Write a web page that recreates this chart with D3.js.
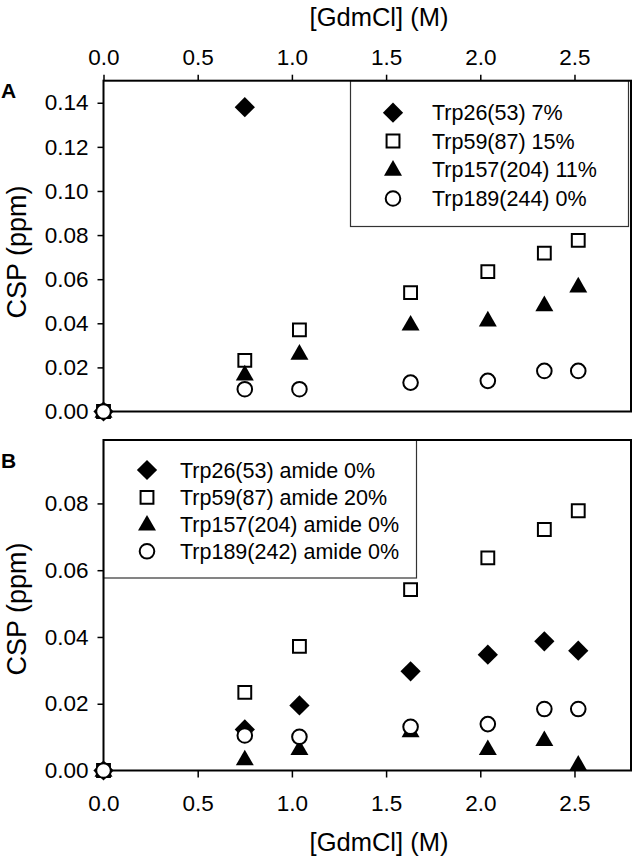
<!DOCTYPE html>
<html>
<head>
<meta charset="utf-8">
<script src="https://cdn.jsdelivr.net/npm/d3@7"></script>
<style>
  html, body { margin: 0; padding: 0; background: #fff; }
  svg { display: block; }
  text { font-family: "Liberation Sans", Arial, sans-serif; fill: #000; }
</style>
</head>
<body>
<svg id="chart" width="633" height="858"></svg>
<script>
// ---------- data ----------
const gdmcl = [0, 0.75, 1.04, 1.63, 2.04, 2.34, 2.52];

// Panel A (side chain)
const aTrp26  = [0, 0.138, null, null, null, null, null];
const aTrp59  = [0, 0.0232, 0.0370, 0.0539, 0.0634, 0.0718, 0.0776];
const aTrp157 = [0, 0.0169, 0.0263, 0.0395, 0.0414, 0.0483, 0.0568];
const aTrp189 = [0, 0.0101, 0.0101, 0.0131, 0.0139, 0.0184, 0.0184];
const aLabels = ["Trp26(53) 7%", "Trp59(87) 15%", "Trp157(204) 11%", "Trp189(244) 0%"];

// Panel B (amide)
const bTrp26  = [0, 0.0123, 0.0195, 0.0297, 0.0347, 0.0387, 0.0359];
const bTrp59  = [0, 0.0234, 0.0372, 0.0542, 0.0637, 0.0722, 0.0778];
const bTrp157 = [0, 0.0034, 0.0065, 0.0118, 0.0065, 0.0092, 0.0018];
const bTrp189 = [0, 0.0105, 0.0101, 0.0131, 0.0139, 0.0184, 0.0184];
const bLabels = ["Trp26(53) amide 0%", "Trp59(87) amide 20%", "Trp157(204) amide 0%", "Trp189(242) amide 0%"];

const xTicks = [0, 0.5, 1.0, 1.5, 2.0, 2.5];
const yTicksA = [0, 0.02, 0.04, 0.06, 0.08, 0.10, 0.12, 0.14];
const yTicksB = [0, 0.02, 0.04, 0.06, 0.08];
const xTitle = "[GdmCl] (M)";
const yTitle = "CSP (ppm)";

// ---------- layout ----------
const svg = d3.select("#chart");
const left = 103.5, right = 631;
const x = d3.scaleLinear().domain([0, 2.8]).range([left, right]);
const yA = d3.scaleLinear().domain([0, 0.15]).range([411.5, 80.7]);
const yB = d3.scaleLinear().domain([0, 0.099]).range([770.5, 440]);

const TICKFONT = 22.5;
const LEGFONT = 21.5;

function drawSymbol(sel, kind) {
  if (kind === "diamond") {
    sel.append("path").attr("d", d3.symbol(d3.symbolSquare, 205)())
      .attr("transform", "rotate(45)").attr("fill", "#000");
  } else if (kind === "square") {
    sel.append("path").attr("d", d3.symbol(d3.symbolSquare, 165)())
      .attr("fill", "#fff").attr("stroke", "#000").attr("stroke-width", 2);
  } else if (kind === "triangle") {
    sel.append("path").attr("d", d3.symbol(d3.symbolTriangle, 140)())
      .attr("transform", "translate(0,1)")
      .attr("fill", "#000");
  } else if (kind === "circle") {
    sel.append("circle").attr("r", 7.3)
      .attr("fill", "#fff").attr("stroke", "#000").attr("stroke-width", 2);
  }
}
const kinds = ["diamond", "square", "triangle", "circle"];

function styleAxis(a) {
  a.select(".domain").remove();
  a.selectAll("line").attr("stroke", "#000").attr("stroke-width", 1.5);
  a.selectAll("text").attr("font-size", TICKFONT).attr("font-family", "Liberation Sans, Arial, sans-serif");
}

function panel(y, series, labels, ticksY, opts) {
  const g = svg.append("g");
  // left axis
  const ya = g.append("g").attr("transform", `translate(${left},0)`)
    .call(d3.axisLeft(y).tickValues(ticksY).tickFormat(d3.format(".2f"))
      .tickSize(6).tickPadding(9).tickSizeOuter(0));
  styleAxis(ya);

  // x axis (top or bottom)
  if (opts.xPos === "top") {
    const xa = g.append("g").attr("transform", `translate(0,${y.range()[1]})`)
      .call(d3.axisTop(x).tickValues(xTicks).tickFormat(d3.format(".1f"))
        .tickSize(6).tickPadding(9.5).tickSizeOuter(0));
    styleAxis(xa);
  } else {
    const xa = g.append("g").attr("transform", `translate(0,${y.range()[0]})`)
      .call(d3.axisBottom(x).tickValues(xTicks).tickFormat(d3.format(".1f"))
        .tickSize(7).tickPadding(17.5).tickSizeOuter(0));
    styleAxis(xa);
  }

  // legend box
  const lb = opts.legend;
  g.append("rect").attr("x", lb.x0).attr("y", lb.y0)
    .attr("width", lb.x1 - lb.x0).attr("height", lb.y1 - lb.y0)
    .attr("fill", "#fff").attr("stroke", "#333").attr("stroke-width", 1.2);
  labels.forEach((lab, i) => {
    const row = g.append("g").attr("transform", `translate(${lb.sx},${lb.rows[i]})`);
    drawSymbol(row, kinds[i]);
    g.append("text").attr("x", lb.tx).attr("y", lb.rows[i]).attr("dy", "0.36em")
      .attr("font-size", LEGFONT).text(lab);
  });

  // frame
  g.append("rect").attr("x", left).attr("y", y.range()[1])
    .attr("width", right - left).attr("height", y.range()[0] - y.range()[1])
    .attr("fill", "none").attr("stroke", "#000").attr("stroke-width", 2);

  // data
  series.forEach((vals, si) => {
    const pts = gdmcl.map((c, i) => ({ c, v: vals[i] })).filter(d => d.v !== null);
    pts.forEach(d => {
      const s = g.append("g").attr("transform", `translate(${x(d.c)},${y(d.v)})`);
      drawSymbol(s, kinds[si]);
    });
  });

  // y title
  g.append("text").attr("transform", `translate(26,${opts.yTitleY}) rotate(-90)`)
    .attr("text-anchor", "middle").attr("font-size", 27).text(yTitle);
  // panel letter
  g.append("text").attr("x", 1).attr("y", opts.letterY).attr("font-size", 21)
    .attr("font-weight", "bold").text(opts.letter);
}

panel(yA, [aTrp26, aTrp59, aTrp157, aTrp189], aLabels, yTicksA, {
  xPos: "top",
  legend: { x0: 350.5, y0: 80.7, x1: 628.5, y1: 226.5, sx: 393, tx: 432, rows: [112.7, 141, 169.5, 198.5] },
  yTitleY: 252, letter: "A", letterY: 98
});
panel(yB, [bTrp26, bTrp59, bTrp157, bTrp189], bLabels, yTicksB, {
  xPos: "bottom",
  legend: { x0: 103.5, y0: 440, x1: 416.5, y1: 578, sx: 147, tx: 180, rows: [470, 497.3, 524.3, 551.3] },
  yTitleY: 609, letter: "B", letterY: 468
});

// x titles
svg.append("text").attr("x", 379).attr("y", 26).attr("text-anchor", "middle")
  .attr("font-size", 25.5).text(xTitle);
svg.append("text").attr("x", 379).attr("y", 851).attr("text-anchor", "middle")
  .attr("font-size", 25.5).text(xTitle);
</script>
</body>
</html>
